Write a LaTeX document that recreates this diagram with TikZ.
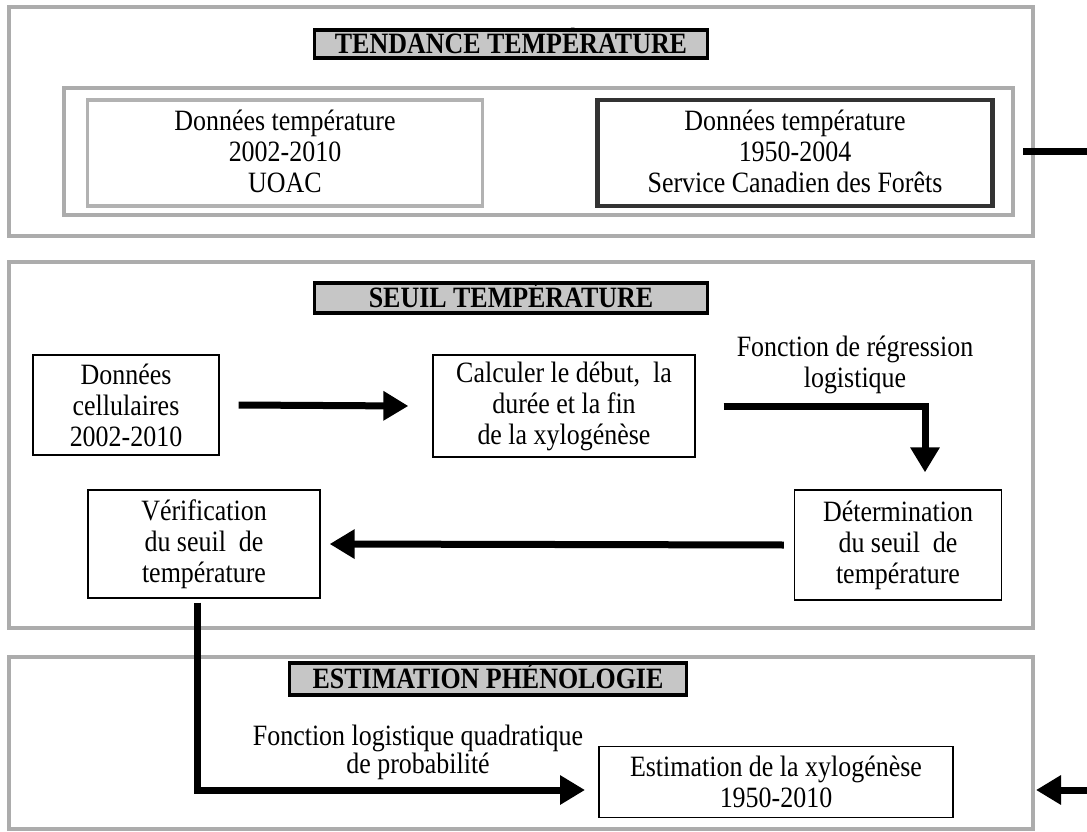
\documentclass[tikz,border=0pt]{standalone}
\usepackage{fontspec}
\setmainfont[FakeStretch=0.88]{Liberation Serif}
\usetikzlibrary{arrows.meta}
\begin{document}
\begin{tikzpicture}[x=1pt,y=-1pt,
 txt/.style={font=\fontsize{29.5}{31}\selectfont, align=center, inner sep=0pt},
 outerbox/.style={draw=gray!65, line width=4.5pt, inner sep=0pt},
 titlebox/.style={draw=black, line width=3.5pt, fill=gray!45, inner sep=0pt, text height=19pt, text depth=0pt, font=\fontsize{29.5}{30}\selectfont\bfseries},
 plainbox/.style={txt, draw=black, line width=1.3pt},
 lightbox/.style={draw=gray!60, line width=3.5pt, inner sep=0pt},
 darkbox/.style={draw=black!80, line width=4.5pt, inner sep=0pt},
 arr/.style={line width=7pt, -{Triangle[length=25pt,width=28pt]}}
]
\useasboundingbox (0,0) rectangle (1087,832);
\fill[white] (0,0) rectangle (1087,832);

% ---- Section 1 ----
\node[outerbox, minimum width=1024pt, minimum height=229pt] (S1) at (521,121.5) {};
\node[titlebox, minimum width=393pt, minimum height=28pt] (T1) at (511,44) {TENDANCE TEMPÉRATURE};
\node[outerbox, minimum width=949pt, minimum height=127pt] (IN) at (538.5,151.5) {};
\node[lightbox, minimum width=395pt, minimum height=106pt] (L1) at (285,153) {};
\node[darkbox, minimum width=395pt, minimum height=106pt] (R1) at (795,153) {};
\node[txt] (L1t) at (285,151) {Données température\\2002-2010\\UOAC};
\node[txt] (R1t) at (795,151) {Données température\\1950-2004\\Service Canadien des Forêts};

% ---- Section 2 ----
\node[outerbox, minimum width=1024pt, minimum height=366pt] (S2) at (521,445) {};
\node[titlebox, minimum width=393pt, minimum height=30pt] (T2) at (511,298) {SEUIL TEMPÉRATURE};
\node[plainbox, minimum width=186pt, minimum height=100pt] (A) at (126,405) {Données\\cellulaires\\2002-2010};
\node[plainbox, minimum width=262pt, minimum height=102pt] (B) at (564,406) {Calculer le début,~ la\\durée et la fin\\de la xylogénèse};
\node[plainbox, minimum width=207pt, minimum height=110pt] (C) at (898,545) {Détermination\\du seuil~ de\\température};
\node[plainbox, minimum width=232pt, minimum height=108pt] (D) at (204,544) {Vérification\\du seuil~ de\\température};
\node[txt] (LB) at (855,365) {Fonction de régression\\logistique};

% ---- Section 3 ----
\node[outerbox, minimum width=1024pt, minimum height=172pt] (S3) at (521,743) {};
\node[titlebox, minimum width=397pt, minimum height=32pt] (T3) at (488,679) {ESTIMATION PHÉNOLOGIE};
\node[plainbox, minimum width=354pt, minimum height=71pt] (E) at (776,782) {Estimation de la xylogénèse\\1950-2010};
\node[txt, font=\fontsize{29.5}{25}\selectfont] (LE) at (418,752) {Fonction logistique quadratique\\de probabilité};

% ---- connectors ----
\coordinate (rOut) at (1023,152);
\coordinate (rIn) at (1036,790);
\coordinate (eIn) at (585,790);
\draw[arr] ([xshift=19pt]A.east) -- ([xshift=-24pt]B.west);
\draw[arr] ([xshift=28pt]B.east) -| ([xshift=27pt,yshift=17pt]C.north);
\draw[arr] ([xshift=-10pt]C.west) -- ([xshift=9pt]D.east);
\draw[arr] ([xshift=-7pt,yshift=-4pt]D.south) |- (eIn);
\draw[arr] (rOut) -- (1096,152) |- (rIn);
\end{tikzpicture}
\end{document}
